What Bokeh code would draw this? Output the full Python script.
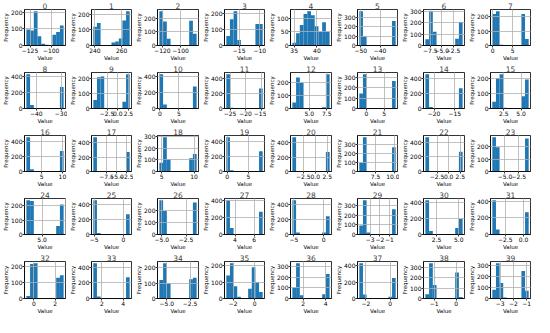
import numpy as np
from bokeh.plotting import figure
from bokeh.layouts import gridplot
from bokeh.models import Range1d, FixedTicker, CustomJSTickFormatter
from bokeh.embed import file_html
from bokeh.resources import INLINE

titles = [str(i) for i in range(40)]

x_min = [-129.3, 238.8, -123.3, -18.1, 34.6, -50.8, -8.6, -0.1,
         -44.0, -5.7, -0.15, -26.2, 2.6, -2.0, -22.1, 0.83,
         1.3, -10.8, 4.65, -0.2, -4.8, 5.3, -5.0, -7.3,
         3.32, -5.16, -5.26, 3.09, -5.27, -4.13, 1.25, -4.25,
         -0.7, 1.2, -5.8, -2.65, 1.05, -2.55, -1.4, -3.6]
x_max = [-85.3, 266.0, -82.3, -9.3, 42.8, -31.9, -0.4, 9.0,
         -29.0, 2.8, 9.7, -14.5, 7.9, 8.25, -13.1, 6.1,
         10.3, -1.7, 10.4, 8.4, 3.0, 10.2, 3.0, -0.7,
         7.3, 1.05, -1.4, 6.9, 1.0, -0.36, 5.43, 0.7,
         2.8, 4.6, -1.8, 0.75, 4.35, 0.45, 0.3, -0.85]

freq = [
    [95, 90, 205, 55, 10, 5, 0, 65, 80, 120],
    [120, 145, 0, 0, 0, 20, 25, 45, 160, 220],
    [250, 175, 50, 0, 0, 0, 0, 0, 180, 85],
    [60, 165, 215, 35, 0, 0, 0, 0, 135, 135],
    [10, 45, 75, 115, 125, 110, 70, 50, 85, 50],
    [370, 100, 0, 0, 0, 0, 0, 0, 0, 265],
    [55, 300, 120, 0, 0, 0, 0, 0, 60, 205],
    [220, 240, 5, 0, 0, 0, 0, 0, 220, 45],
    [430, 45, 0, 0, 0, 0, 0, 0, 0, 270],
    [55, 205, 210, 0, 0, 0, 0, 0, 45, 225],
    [430, 50, 0, 0, 0, 0, 0, 0, 0, 275],
    [460, 10, 0, 0, 0, 0, 0, 0, 0, 270],
    [45, 235, 195, 0, 0, 0, 0, 0, 10, 260],
    [145, 330, 0, 0, 0, 0, 0, 0, 0, 265],
    [450, 20, 0, 0, 0, 0, 0, 0, 0, 265],
    [45, 200, 225, 5, 0, 0, 0, 0, 80, 190],
    [450, 30, 0, 0, 0, 0, 0, 0, 0, 270],
    [475, 0, 0, 0, 0, 0, 0, 0, 0, 270],
    [75, 295, 105, 0, 0, 0, 0, 0, 115, 150],
    [455, 15, 0, 0, 0, 0, 0, 0, 0, 270],
    [475, 0, 0, 0, 0, 0, 0, 0, 0, 270],
    [95, 375, 0, 0, 0, 0, 0, 0, 0, 265],
    [470, 5, 0, 0, 0, 0, 0, 0, 0, 270],
    [275, 195, 0, 0, 0, 0, 0, 0, 0, 265],
    [240, 235, 0, 0, 0, 0, 0, 0, 60, 210],
    [450, 20, 0, 0, 0, 0, 0, 0, 0, 265],
    [285, 195, 0, 0, 0, 0, 0, 0, 0, 265],
    [400, 75, 0, 0, 0, 0, 0, 0, 0, 265],
    [450, 25, 0, 0, 0, 0, 0, 0, 25, 240],
    [95, 360, 20, 0, 0, 0, 0, 0, 5, 265],
    [430, 45, 0, 0, 0, 0, 0, 0, 80, 195],
    [415, 60, 0, 0, 0, 0, 0, 0, 0, 270],
    [15, 215, 220, 0, 0, 0, 0, 0, 130, 145],
    [450, 25, 0, 0, 0, 0, 0, 0, 0, 270],
    [120, 230, 100, 0, 0, 0, 0, 0, 125, 135],
    [140, 215, 75, 10, 0, 0, 60, 190, 100, 40],
    [100, 330, 30, 0, 0, 0, 0, 0, 40, 230],
    [430, 50, 0, 0, 0, 0, 0, 0, 20, 250],
    [40, 340, 130, 5, 0, 0, 0, 5, 250, 15],
    [80, 320, 140, 10, 0, 0, 0, 0, 250, 70],
]

x_ticks = [
    [-125, -100], [240, 260], [-120, -100], [-15, -10], [35, 40], [-50, -40, -30], [-7.5, -5.0, -2.5], [0, 5],
    [-40, -30], [-2.5, 0.0, 2.5], [0, 5], [-25, -20, -15], [5.0, 7.5], [0, 5], [-20, -15], [2.5, 5.0],
    [5, 10], [-7.5, -5.0, -2.5], [5, 10], [0, 5], [-2.5, 0.0, 2.5], [7.5, 10.0], [-2.5, 0.0, 2.5], [-5.0, -2.5],
    [5.0, 7.5], [-5, 0], [-5.0, -2.5], [4, 6], [-5, 0], [-3, -2, -1], [2.5, 5.0], [-2.5, 0.0],
    [0, 2], [2, 4], [-5.0, -2.5], [-2, 0], [2, 4], [-2, 0], [-1, 0], [-3, -2, -1],
]
x_decimals = [0, 0, 0, 0, 0, 0, 1, 0,
              0, 1, 0, 0, 1, 0, 0, 1,
              0, 1, 0, 0, 1, 1, 1, 1,
              1, 0, 1, 0, 0, 0, 1, 1,
              0, 0, 1, 0, 0, 0, 0, 0]

y_step = [100, 100, 100, 100, 50, 100, 100, 100,
          200, 100, 200, 200, 100, 100, 200, 100,
          200, 200, 100, 200, 200, 100, 200, 100,
          100, 200, 100, 200, 200, 100, 200, 200,
          100, 200, 100, 100, 100, 200, 100, 100]

BLUE = "#1f77b4"
FONT = "DejaVu Sans"
col_w = [67, 66, 67, 66, 67, 66, 67, 66]
row_h = [63, 63, 63, 63, 64]

figs = []
for i in range(40):
    lo, hi = x_min[i], x_max[i]
    w = hi - lo
    edges = np.linspace(lo, hi, 11)
    c = freq[i]
    ymax = max(c) * 1.05
    p = figure(width=col_w[i % 8], height=row_h[i // 8], output_backend="svg", toolbar_location=None,
               x_range=Range1d(lo - 0.05 * w, hi + 0.05 * w), y_range=Range1d(0, ymax),
               min_border_left=21, min_border_right=2, min_border_top=9, min_border_bottom=0,
               title=titles[i])
    p.quad(left=edges[:-1], right=edges[1:], bottom=0, top=c,
           fill_color=BLUE, line_color=None)

    yt = list(np.arange(0, ymax, y_step[i]))
    p.yaxis.ticker = FixedTicker(ticks=yt)
    p.xaxis.ticker = FixedTicker(ticks=x_ticks[i])
    p.xaxis.formatter = CustomJSTickFormatter(
        code="return tick.toFixed(%d).replace('-', '\u2212');" % x_decimals[i])

    p.title.align = "center"
    p.title.text_font = FONT
    p.title.text_font_size = "7.5px"
    p.title.text_font_style = "normal"
    p.title.standoff = 1
    p.title.offset = 0

    p.xaxis.axis_label = "Value"
    p.yaxis.axis_label = "Frequency"
    for ax in (p.xaxis, p.yaxis):
        ax.axis_label_text_font = FONT
        ax.axis_label_text_font_size = "5.5px"
        ax.axis_label_text_font_style = "normal"
        ax.axis_label_standoff = -1
        ax.major_label_text_font = FONT
        ax.major_label_text_font_size = "6px"
        ax.major_label_standoff = 0
        ax.major_tick_out = 2
        ax.major_tick_in = 0
        ax.minor_tick_line_color = None
        ax.axis_line_color = "black"
        ax.axis_line_width = 0.8
        ax.major_tick_line_width = 0.8
        ax.major_label_text_color = "black"
        ax.axis_label_text_color = "black"

    p.grid.grid_line_color = "#b0b0b0"
    p.grid.grid_line_width = 0.8
    p.grid.level = "overlay"
    p.outline_line_color = "black"
    p.outline_line_width = 0.8
    p.outline_line_alpha = 1.0
    figs.append(p)

grid = gridplot(figs, ncols=8, toolbar_location=None)

open("out.html", "w").write(file_html(grid, INLINE))
